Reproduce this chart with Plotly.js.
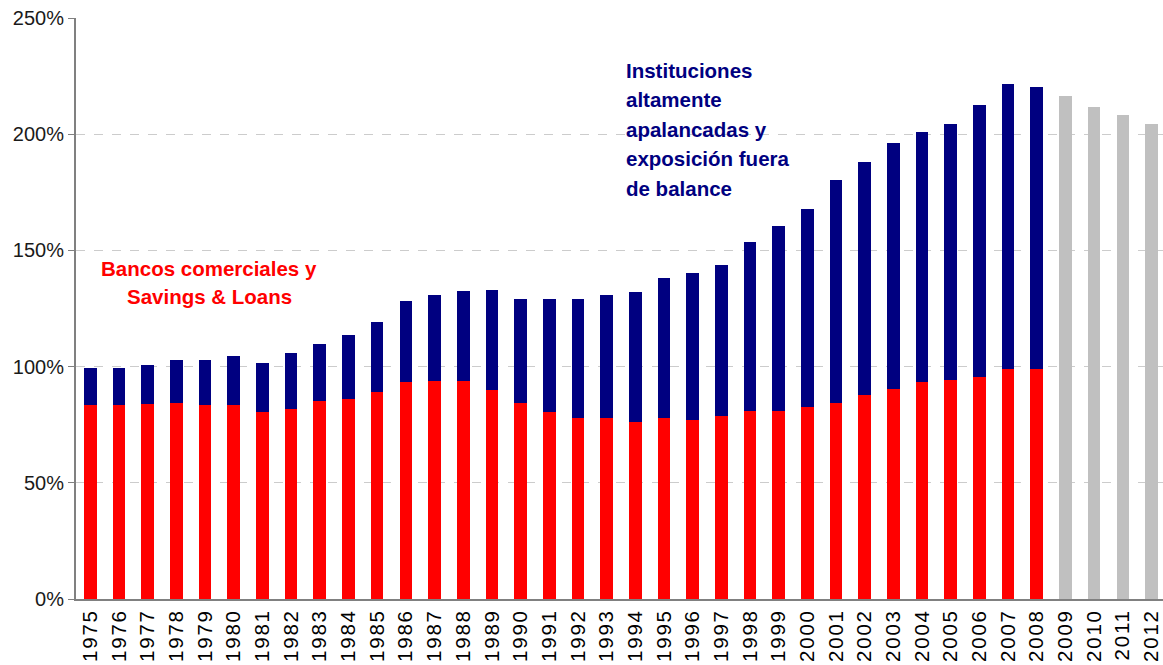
<!DOCTYPE html>
<html>
<head>
<meta charset="utf-8">
<script src="https://cdn.plot.ly/plotly-3.0.1.min.js"></script>
<style>
html,body{margin:0;padding:0;background:#fff;}
#chart{width:1163px;height:665px;}
.xaxislayer-above .xtick text{letter-spacing:1.8px;}
</style>
</head>
<body>
<div id="chart"></div>
<script>
const years = ['1975','1976','1977','1978','1979','1980','1981','1982','1983','1984','1985','1986','1987','1988','1989','1990','1991','1992','1993','1994','1995','1996','1997','1998','1999','2000','2001','2002','2003','2004','2005','2006','2007','2008'];
const bancos = [83.3,83.3,83.7,84.5,83.3,83.3,80.3,81.6,85.0,86.2,89.0,93.2,93.6,93.6,89.8,84.2,80.3,78.1,78.1,76.3,78.1,77.2,78.6,80.8,81.1,82.5,84.5,87.6,90.2,93.2,94.4,95.4,98.8,98.8];
const instituciones = [15.9,15.9,16.8,18.3,19.5,21.2,21.1,24.1,24.6,27.3,30.1,35.0,37.4,38.8,43.1,44.8,48.7,50.9,52.9,55.8,59.9,63.1,65.1,72.7,79.3,85.2,95.8,100.4,105.9,107.7,109.9,117.1,122.9,121.5];
const forecastYears = ['2009','2010','2011','2012'];
const forecast = [216.4,211.7,208.2,204.3];
const allYears = years.concat(forecastYears);

const redLines = ['Bancos comerciales y','Savings &amp; Loans'];
const blueLines = ['Instituciones','altamente','apalancadas y','exposición fuera','de balance'];

const barW = 0.44;
const traces = [
  {type:'bar', x:years, y:bancos, marker:{color:'#ff0000'}, width:barW, name:'Bancos'},
  {type:'bar', x:years, y:instituciones, marker:{color:'#000080'}, width:barW, name:'Instituciones'},
  {type:'bar', x:forecastYears, y:forecast, marker:{color:'#c0c0c0'}, width:barW, name:'Proyección'}
];

const annFont = 20.5;
const annotations = [];
const redY = [0.5697, 0.5198];
redLines.forEach((t,i)=>annotations.push({xref:'paper', yref:'paper', x:0.1228, y:redY[i], xanchor:'center', yanchor:'middle', showarrow:false,
  text:'<b>'+t+'</b>', font:{size:annFont, color:'#ff0000', family:'Liberation Sans, Arial, sans-serif'}}));
const blueY = [0.9098, 0.8596, 0.8084, 0.759, 0.7074];
blueLines.forEach((t,i)=>annotations.push({xref:'paper', yref:'paper', x:0.5043, y:blueY[i], xanchor:'left', yanchor:'middle', align:'left', showarrow:false,
  text:'<b>'+t+'</b>', font:{size:annFont, color:'#000080', family:'Liberation Sans, Arial, sans-serif'}}));

const layout = {
  width:1163, height:665,
  margin:{l:76, r:0, t:18, b:66},
  barmode:'stack',
  showlegend:false,
  paper_bgcolor:'#ffffff', plot_bgcolor:'#ffffff',
  font:{family:'Liberation Sans, Arial, sans-serif', color:'#000000'},
  xaxis:{
    type:'category', categoryorder:'array', categoryarray:allYears,
    range:[-0.5, 37.4],
    tickangle:-90, tickfont:{size:20.5, color:'#000000'},
    showline:true, linecolor:'#808080', linewidth:2,
    ticks:'', showgrid:false, zeroline:false
  },
  yaxis:{
    range:[0,250], dtick:50, ticksuffix:'%',
    tickfont:{size:20, color:'#1a1a1a'},
    showline:true, linecolor:'#808080', linewidth:2,
    ticks:'outside', ticklen:6, tickcolor:'#808080', tickwidth:1,
    showgrid:true, gridcolor:'#cccccc', griddash:'dash', gridwidth:1,
    zeroline:false
  },
  annotations:annotations
};
Plotly.newPlot('chart', traces, layout, {displayModeBar:false, staticPlot:true});
</script>
</body>
</html>
